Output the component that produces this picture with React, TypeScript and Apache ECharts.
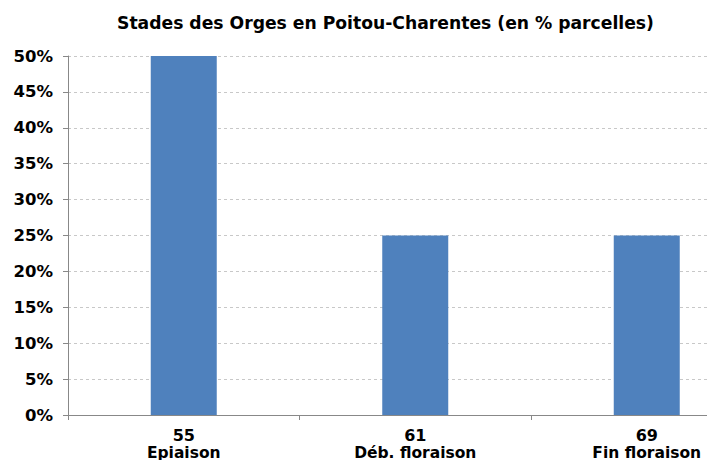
import React, { useEffect, useRef } from "react";
import * as echarts from "echarts";

const stageCodes = ["55", "61", "69"];
const stageNames = ["Epiaison", "Déb. floraison", "Fin floraison"];
const shares = [50, 25, 25];
const yTicks = { min: 0, max: 50, interval: 5 };
const titleText = "Stades des Orges en Poitou-Charentes (en % parcelles)";

export default function App() {
  const ref = useRef<HTMLDivElement>(null);
  useEffect(() => {
    document.body.style.margin = "0";
    const chart = echarts.init(ref.current!, undefined, { renderer: "svg" });
    const font = "DejaVu Sans, Verdana, sans-serif";
    chart.setOption({
      animation: false,
      backgroundColor: "#ffffff",
      title: {
        text: titleText,
        left: 112,
        top: 9,
        textStyle: { fontFamily: font, fontWeight: "bold", fontSize: 17.2, color: "#000" },
      },
      grid: { left: 68, top: 56, width: 694.5, bottom: 45, outerBoundsMode: "none", containLabel: false },
      xAxis: {
        type: "category",
        data: stageCodes.map((c, i) => c + "\n" + stageNames[i]),
        axisLine: { lineStyle: { color: "#888", width: 1 } },
        axisTick: { show: true, length: 5, lineStyle: { color: "#888" } },
        axisLabel: {
          margin: 12,
          interval: 0,
          formatter: (v: string) => {
            const [a, b] = v.split("\n");
            return "{a|" + a + "}\n{b|" + b + "}";
          },
          rich: {
            a: { fontFamily: font, fontWeight: "bold", fontSize: 16, color: "#000", lineHeight: 17 },
            b: { fontFamily: font, fontWeight: "bold", fontSize: 15.5, color: "#000", lineHeight: 17 },
          },
        },
      },
      yAxis: {
        type: "value",
        min: yTicks.min,
        max: yTicks.max,
        interval: yTicks.interval,
        axisLine: { show: true, lineStyle: { color: "#888", width: 1 } },
        axisTick: { show: true, length: 5, lineStyle: { color: "#888" } },
        splitLine: { lineStyle: { color: "#c8c8c8", type: [3, 3], width: 1 } },
        axisLabel: {
          margin: 15,
          formatter: "{value}%",
          fontFamily: font,
          fontWeight: "bold",
          fontSize: 16.5,
          color: "#000",
        },
      },
      series: [
        {
          type: "bar",
          data: shares,
          barWidth: 66,
          itemStyle: { color: "#4f81bd" },
        },
      ],
    });
    return () => chart.dispose();
  }, []);
  return <div ref={ref} style={{ width: 707, height: 460 }} />;
}
